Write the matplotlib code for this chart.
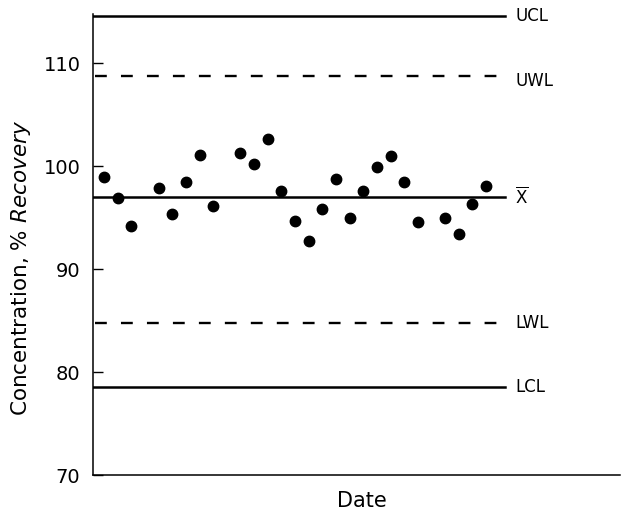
import numpy as np
import matplotlib
matplotlib.use("Agg")
import matplotlib.pyplot as plt

plt.rcParams['font.family'] = ['DejaVu Sans']
plt.rcParams['mathtext.fontset'] = 'dejavusans'

# day of each measurement and the % recovery found
days = [1, 2, 3, 5, 6, 7, 8, 9, 11, 12, 13, 14, 15, 16, 17, 18, 19, 20,
        21, 22, 23, 24, 26, 27, 28, 29]
recovery = [99.0, 96.9, 94.2, 97.9, 95.4, 98.5, 101.1, 96.1, 101.3, 100.2,
            102.6, 97.6, 94.7, 92.7, 95.8, 98.8, 95.0, 97.6, 99.9, 101.0,
            98.5, 94.6, 95.0, 93.4, 96.3, 98.1]

# control / warning limits
limit_names = ['UCL', 'UWL', r'$\mathrm{\overline{X}}$', 'LWL', 'LCL']
limit_values = [114.6, 108.8, 97.05, 84.75, 78.6]
limit_dashed = [False, True, False, True, False]

fig = plt.figure(figsize=(6.28, 5.13), dpi=100)
ax = fig.add_axes([0.148, 0.074, 0.839, 0.899])

x0, x1 = 0.19, 30.4
for name, val, dashed in zip(limit_names, limit_values, limit_dashed):
    if dashed:
        ax.plot([x0 + 0.15, x1], [val, val], color='black', lw=1.7,
                linestyle=(0, (5, 6)), solid_capstyle='butt')
    else:
        ax.plot([x0, x1], [val, val], color='black', lw=1.8)
    dy = -0.5 if name == 'UWL' else 0
    ax.text(x1 + 0.75, val + dy, name, va='center', ha='left', fontsize=12)

ax.plot(days, recovery, 'o', color='black', markersize=7.5)

ax.set_xlim(x0, 38.8)
ax.set_ylim(70, 114.8)
ax.set_yticks([70, 80, 90, 100, 110])
ax.set_xticks([])
ax.tick_params(axis='y', direction='in', length=7, width=1, pad=9,
               labelsize=14)
for s in ['top', 'right']:
    ax.spines[s].set_visible(False)
for s in ['left', 'bottom']:
    ax.spines[s].set_linewidth(1.1)

ax.set_ylabel(r'Concentration, $\it{\%\ Recovery}$', fontsize=15.5)
ax.yaxis.set_label_coords(-0.114, 0.45)
ax.set_xlabel('Date', fontsize=15)
ax.xaxis.set_label_coords(0.51, -0.035)

fig.savefig('out.png', dpi=100)
